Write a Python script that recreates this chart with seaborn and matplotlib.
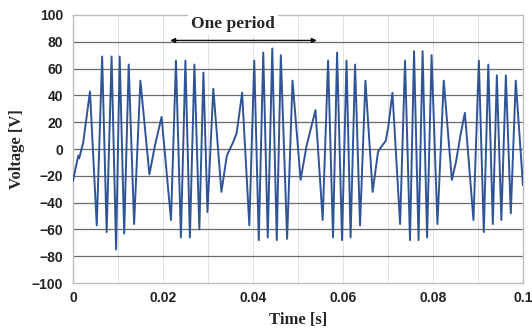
import matplotlib
matplotlib.use("Agg")
import matplotlib.pyplot as plt
import seaborn as sns
import pandas as pd

# Waveform extrema / turning points
time_s = [0.0000, 0.0012, 0.0014, 0.0023, 0.0038, 0.0053, 0.0065, 0.0075, 0.0086, 0.0096,
          0.0104, 0.0114, 0.0124, 0.0136, 0.0150, 0.0170, 0.0182, 0.0197, 0.0218, 0.0229,
          0.0240, 0.0250, 0.0260, 0.0270, 0.0281, 0.0290, 0.0299, 0.0312, 0.0330, 0.0342,
          0.0356, 0.0364, 0.0376, 0.0392, 0.0403, 0.0413, 0.0423, 0.0433, 0.0443, 0.0453,
          0.0462, 0.0476, 0.0488, 0.0506, 0.0519, 0.0530, 0.0539, 0.0555, 0.0567, 0.0578,
          0.0587, 0.0598, 0.0608, 0.0617, 0.0627, 0.0638, 0.0650, 0.0666, 0.0678, 0.0686,
          0.0695, 0.0701, 0.0710, 0.0727, 0.0738, 0.0749, 0.0758, 0.0768, 0.0777, 0.0787,
          0.0797, 0.0810, 0.0824, 0.0842, 0.0851, 0.0862, 0.0871, 0.0890, 0.0902, 0.0913,
          0.0923, 0.0933, 0.0942, 0.0952, 0.0962, 0.0973, 0.0984, 0.1000]
voltage = [-24, -5, -7, 5, 43, -57, 69, -62, 69, -75,
           69, -63, 63, -56, 51, -19, 2, 24, -53, 66,
           -66, 66, -66, 63, -60, 57, -47, 45, -32, -5,
           5, 12, 42, -57, 66, -68, 72, -66, 75, -68,
           70, -67, 51, -23, 2, 17, 29, -53, 66, -66,
           72, -68, 66, -66, 63, -57, 51, -32, -2, 2,
           6, 17, 42, -56, 66, -68, 73, -68, 73, -66,
           70, -56, 51, -23, -10, 12, 27, -53, 66, -62,
           63, -56, 55, -53, 55, -48, 51, -27]

period_start = 0.0216
period_end = 0.0542

df = pd.DataFrame({"time": time_s, "voltage": voltage})

sns.set_style("white")
plt.rcParams["font.family"] = ["Liberation Sans", "DejaVu Sans"]

fig = plt.figure(figsize=(5.32, 3.33), dpi=100)
ax = fig.add_axes([0.137, 0.15, 0.846, 0.805])

# grid
for v in range(-80, 100, 20):
    ax.axhline(v, color="#6a6a6a", lw=0.9, zorder=1)
for k in range(1, 10):
    ax.axvline(k / 100, color="#e2e2e2", lw=0.7, zorder=0)

sns.lineplot(data=df, x="time", y="voltage", sort=False, color="#2f5597",
             lw=1.4, ax=ax, zorder=3, solid_joinstyle="round", solid_capstyle="round")

ax.set_xlim(0, 0.1)
ax.set_ylim(-100, 100)
ax.set_xticks([0, 0.02, 0.04, 0.06, 0.08, 0.1])
ax.set_xticklabels(["0", "0.02", "0.04", "0.06", "0.08", "0.1"])
ax.set_yticks(range(-100, 101, 20))
ax.tick_params(axis="both", length=0, labelsize=10, colors="#222222")
ax.tick_params(axis="y", pad=7)
ax.tick_params(axis="x", pad=6)
for lab in ax.get_xticklabels() + ax.get_yticklabels():
    lab.set_fontweight("bold")
for s in ax.spines.values():
    s.set_color("#bdbdbd")
    s.set_linewidth(1.0)

ax.set_xlabel("Time [s]", family="Liberation Serif", fontweight="bold", fontsize=12, labelpad=5)
ax.set_ylabel("Voltage [V]", family="Liberation Serif", fontweight="bold", fontsize=12, labelpad=5)

# "One period" arrow
ax.annotate("", xy=(period_start, 81), xytext=(period_end, 81),
            arrowprops=dict(arrowstyle="<|-|>", color="#111111", lw=1.0,
                            mutation_scale=7, shrinkA=0, shrinkB=0), zorder=5)
ax.text(0.0356, 93, "One period", family="Liberation Serif", fontweight="bold",
        fontsize=12.5, ha="center", va="center", zorder=5,
        bbox=dict(facecolor="white", edgecolor="none", pad=2))

fig.savefig("out.png", dpi=100)
